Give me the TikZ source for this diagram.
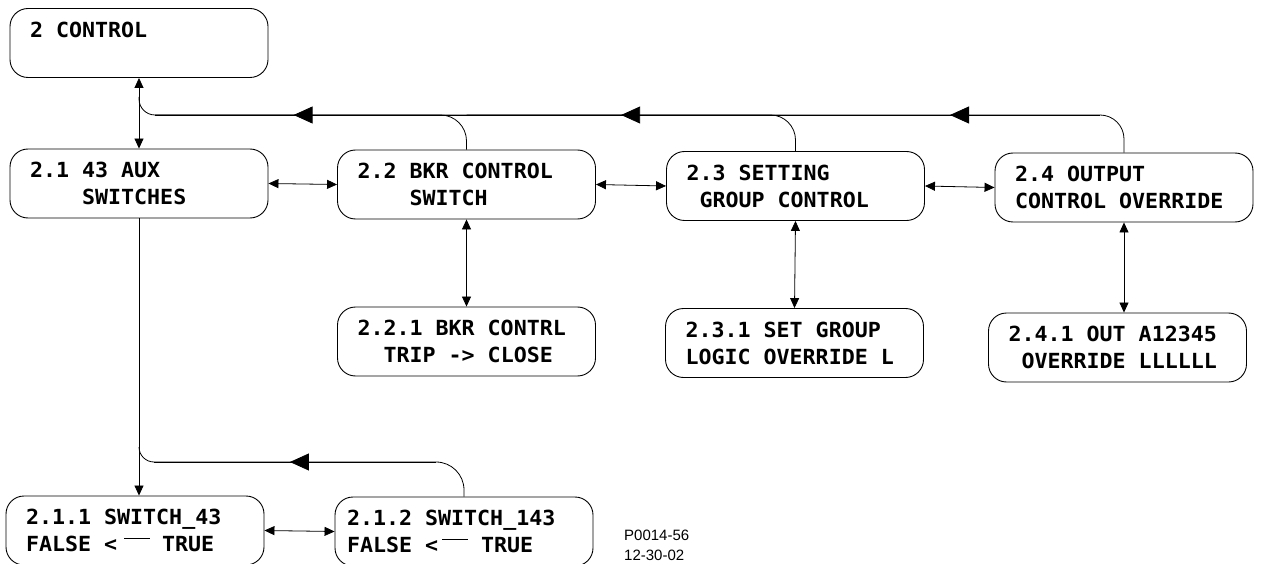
\documentclass[tikz,border=0pt]{standalone}
\usepackage{fontspec}
\setmainfont{Liberation Sans}
\setmonofont{DejaVu Sans Mono}[FakeStretch=1.04]
\usetikzlibrary{arrows.meta,decorations.markings}
\newcommand{\lngdash}[1]{\rule[13pt]{#1}{0.9pt}}

\begin{document}
\begin{tikzpicture}[x=1pt,y=-1pt,
  menu/.style={draw,line width=0.9pt,rounded corners=18pt,text width=218pt,align=flush left,
    inner xsep=20pt,inner ysep=0pt,minimum height=69pt,
    font=\ttfamily\bfseries\fontsize{20.8}{27}\selectfont},
  dbl/.style={line width=0.8pt,{Triangle[length=10pt,width=9pt]}-{Triangle[length=10pt,width=9pt]}},
  one/.style={line width=0.8pt,-{Triangle[length=10pt,width=9pt]}},
  bus/.style={line width=0.8pt},
  busarrow/.style={bus,postaction={decorate},
    decoration={markings,mark=at position #1 with {\arrow{Triangle[length=19pt,width=17pt]}}}}]
  \useasboundingbox (0,0) rectangle (1261,564);

  \node[menu] (b2) at (139,43) {2 CONTROL\\ \mbox{}};
  \node[menu] (b21) at (139,183.5) {2.1 43 AUX\\ \phantom{0000}SWITCHES};
  \node[menu] (b22) at (466.5,184.5) {2.2 BKR CONTROL\\ \phantom{0000}SWITCH};
  \node[menu] (b23) at (795.5,186) {2.3 SETTING\\ \phantom{0}GROUP CONTROL};
  \node[menu] (b24) at (1124,187.5) {2.4 OUTPUT\\ CONTROL OVERRIDE};
  \node[menu] (b221) at (466.5,341.5) {2.2.1 BKR CONTRL\\ \phantom{00}TRIP -> CLOSE};
  \node[menu] (b231) at (794.5,343) {2.3.1 SET GROUP\\ LOGIC OVERRIDE L};
  \node[menu] (b241) at (1117.5,347.5) {2.4.1 OUT A12345\\ \phantom{0}OVERRIDE LLLLLL};
  \node[menu] (b211) at (135,530.5)
    {2.1.1 SWITCH\_43\\ FALSE <\hspace{7pt}\lngdash{26pt}\hspace{12pt}TRUE};
  \node[menu,inner xsep=12pt,text width=234pt] (b212) at (464,531.5)
    {2.1.2 SWITCH\_143\\ FALSE <\hspace{4pt}\lngdash{26pt}\hspace{13pt}TRUE};
  \node[anchor=west,align=left,inner sep=0pt,font=\fontsize{15}{20}\selectfont] (stamp)
    at (624,545.5) {P0014-56\\12-30-02};

  \coordinate (bus) at (0,115);
  \coordinate (r4) at (1100,115);
  \coordinate (bend) at (155,115);
  \coordinate (join) at (139,97);
  \coordinate (r12) at (436,462);
  \coordinate (bend2) at (154,462);
  \coordinate (join2) at (139,447);

  \draw[dbl] (b2.south) -- (b21.north);
  \draw[dbl] (b21.east) -- (b22.west);
  \draw[dbl] (b22.east) -- (b23.west);
  \draw[dbl] (b23.east) -- (b24.west);
  \foreach \a/\b in {b22/b221,b23/b231} \draw[dbl] (\a.south) -- (\b.north);
  \draw[dbl] (b24.south) -- (b24.south |- b241.north);
  \draw[dbl] (b211.east) -- (b212.west);
  \draw[one] (b21.south) -- (b21.south |- b211.north);

  \draw[bus,rounded corners=24pt] (b24.north) |- (bend);
  \draw[bus,rounded corners=25pt] (b23.north) |- (b22.north |- bus);
  \draw[bus,rounded corners=26pt] (b22.north) |- (bend);
  \draw[bus,rounded corners=16pt] (bend) -| (join);
  \draw[busarrow=0.4926] (r4) -- (b23.north |- bus);
  \draw[busarrow=0.53] (b23.north |- bus) -- (b22.north |- bus);
  \draw[busarrow=0.555] (b22.north |- bus) -- (bend);

  \draw[bus,rounded corners=28pt] (b212.north) |- (bend2);
  \draw[bus,rounded corners=15pt] (bend2) -| (join2);
  \draw[busarrow=0.518] (r12) -- (bend2);
\end{tikzpicture}
\end{document}
